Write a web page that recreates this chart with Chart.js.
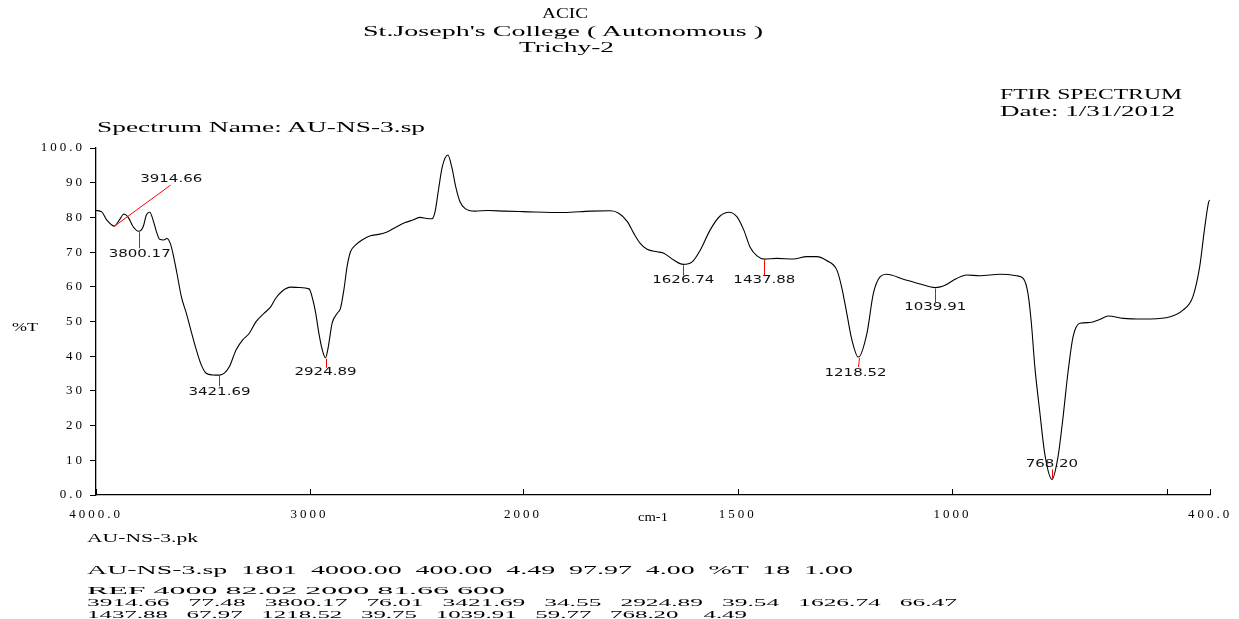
<!DOCTYPE html>
<html><head><meta charset="utf-8">
<script src="https://cdn.jsdelivr.net/npm/chart.js@4.4.1/dist/chart.umd.min.js"></script>
<style>
html,body{margin:0;padding:0;background:#fff;width:1239px;height:619px;overflow:hidden}
#wrap{position:relative;width:1239px;height:619px}
canvas{position:absolute;left:0;top:0}
.t{position:absolute;white-space:pre;font-family:"Liberation Serif","Times New Roman",serif;color:#000;line-height:1;transform-origin:0 50%}
</style></head><body>
<div id="wrap"><canvas id="c" width="1239" height="619"></canvas></div>
<script>
// ---------- DATA ----------
const wavenumbers = [4000,3973,3950,3915,3891,3869,3849,3826,3800,3779,3764,3748,3733,3717,3702,3683,3668,3652,3640,3621,3600,3577,3554,3530,3507,3484,3453,3422,3399,3375,3344,3313,3282,3251,3212,3181,3158,3127,3088,3049,3002,2984,2971,2956,2940,2925,2912,2894,2870,2855,2839,2824,2808,2785,2754,2715,2676,2637,2598,2552,2513,2482,2451,2427,2412,2396,2378,2352,2334,2315,2295,2272,2225,2163,2085,2000,1905,1843,1796,1777,1757,1742,1727,1711,1688,1672,1649,1627,1606,1587,1564,1541,1520,1502,1486,1471,1455,1438,1409,1370,1339,1316,1292,1269,1258,1246,1234,1219,1199,1184,1168,1153,1114,1075,1040,1021,990,967,936,889,851,835,824,816,808,796,785,768,754,743,731,719,703,680,657,637,602,556,502,463,440,424,413,403,400];
const transmittance = [82.0,81.6,79.3,77.5,79.2,81.0,80.0,77.3,76.0,77.3,80.7,81.5,79.3,75.9,73.7,73.5,73.9,72.5,69.7,63.9,57.1,52.4,47.1,41.8,37.5,35.1,34.6,34.55,35.1,37.0,41.8,44.7,46.6,49.9,52.4,54.3,56.7,58.8,59.9,59.8,59.4,56.2,52.4,46.6,41.8,39.54,42.7,49.5,52.4,53.8,59.1,65.8,70.1,72.0,73.5,74.7,75.1,75.8,77.1,78.5,79.3,80.0,79.7,79.6,81.6,87.9,94.6,97.97,94.6,88.8,84.5,82.6,81.8,82.0,81.8,81.66,81.4,81.8,81.9,81.2,78.8,75.4,72.5,70.8,70.1,69.7,67.7,66.47,67.2,70.6,76.4,80.4,81.5,80.2,76.4,71.4,68.9,67.97,68.2,68.0,68.7,68.7,67.5,64.8,60.0,52.4,44.7,39.75,46.6,58.1,62.9,63.6,62.2,60.8,59.77,60.2,62.4,63.4,63.2,63.6,63.2,62.4,58.1,49.5,37.0,23.5,12.0,4.49,11.0,21.6,35.1,45.6,49.5,49.7,50.6,51.6,50.9,50.7,51.1,53.3,57.1,65.8,76.4,84.5,85.0];
const peakWavenumbers = [3914.66,3800.17,3421.69,2924.89,1626.74,1437.88,1218.52,1039.91,768.20];
const peakTransmittance = [77.48,76.01,34.55,39.54,66.47,67.97,39.75,59.77,4.49];
const xTickValues = [400,500,1000,1500,2000,3000,4000];
const xTickLabels = ['400.0','','1000','1500','2000','3000','4000.0'];
const yTickValues = [0,10,20,30,40,50,60,70,80,90,100];
const yTickLabels = ['0.0','10','20','30','40','50','60','70','80','90','100.0'];
const headerLines = ['ACIC',"St.Joseph's College ( Autonomous )",'Trichy-2'];
const infoLines = ['FTIR SPECTRUM','Date: 1/31/2012','Spectrum Name: AU-NS-3.sp'];
const axisTitles = ['%T','cm-1'];
const footerLines = ['AU-NS-3.pk',
 'AU-NS-3.sp  1801  4000.00  400.00  4.49  97.97  4.00  %T  18  1.00',
 'REF 4000 82.02 2000 81.66 600',
 '3914.66   77.48   3800.17   76.01   3421.69   34.55   2924.89   39.54   1626.74   66.47',
 '1437.88   67.97   1218.52   39.75   1039.91   59.77   768.20    4.49'];

// ---------- STYLE / LAYOUT ----------
const BREAK = 2000, XMIN = 400, XMAX = 4000, BREAK_FRAC = 427/1114;
const peakStyle = [
  {lx:56, ly:-41, tx:57, ty:-47, l0:0},
  {lx:0, ly:17, tx:1, ty:23, l0:1},
  {lx:0, ly:11, tx:0, ty:17, l0:1},
  {lx:0, ly:10, tx:0, ty:15, l0:1},
  {lx:0, ly:11, tx:0, ty:16, l0:1},
  {lx:0, ly:16, tx:0, ty:21, l0:1},
  {lx:-1, ly:10, tx:-3, ty:16, l0:1},
  {lx:0, ly:15, tx:0, ty:20, l0:1},
  {lx:0, ly:-10, tx:0, ty:-15, l0:-1}
];

class SplitScale extends Chart.LinearScale {
  static id = 'split';
  static defaults = Chart.LinearScale.defaults;
  _frac(v){ return v >= BREAK ? (XMAX - v)/(XMAX - BREAK)*BREAK_FRAC : BREAK_FRAC + (BREAK - v)/(BREAK - XMIN)*(1 - BREAK_FRAC); }
  getPixelForValue(v){ return this.getPixelForDecimal(this._frac(v)); }
  getValueForPixel(p){
    const f = this.getDecimalForPixel(p);
    return f <= BREAK_FRAC ? XMAX - f/BREAK_FRAC*(XMAX - BREAK) : BREAK - (f - BREAK_FRAC)/(1 - BREAK_FRAC)*(BREAK - XMIN);
  }
}
Chart.register(SplitScale);

const textSpacing = {
  id:'textSpacing',
  beforeDraw(chart){ chart.ctx.letterSpacing = '3px'; },
  beforeDatasetsDraw(chart){ chart.ctx.letterSpacing = '0px'; }
};

const annotations = {
  id:'annotations',
  afterDatasetsDraw(chart){
    const ctx = chart.ctx, xs = chart.scales.x, ys = chart.scales.y;
    ctx.save();
    ctx.letterSpacing = '0px';
    ctx.strokeStyle = '#000'; ctx.lineWidth = 1;
    xs.ticks.forEach(t => {
      const px = Math.round(xs.getPixelForValue(t.value)) + 0.5;
      ctx.beginPath(); ctx.moveTo(px, ys.bottom); ctx.lineTo(px, ys.bottom - 6); ctx.stroke();
    });
    peakWavenumbers.forEach((w, i) => {
      const s = peakStyle[i];
      const px = xs.getPixelForValue(w), py = ys.getPixelForValue(peakTransmittance[i]);
      ctx.strokeStyle = '#ff0000'; ctx.lineWidth = 1;
      ctx.beginPath();
      ctx.moveTo(Math.round(px)+0.5, py + s.l0);
      ctx.lineTo(Math.round(px + s.lx)+0.5, py + s.ly);
      ctx.stroke();
      ctx.save();
      ctx.translate(px + s.tx, py + s.ty);
      ctx.scale(1.5, 1);
      ctx.font = '10px "DejaVu Sans"';
      ctx.fillStyle = '#111';
      ctx.textAlign = 'center'; ctx.textBaseline = 'middle';
      ctx.fillText(w.toFixed(2), 0, 0);
      ctx.restore();
    });
    ctx.restore();
  }
};

new Chart(document.getElementById('c'), {
  type: 'line',
  data: { datasets: [{
    data: wavenumbers.map((w, i) => ({x: w, y: transmittance[i]})),
    borderColor: '#000', borderWidth: 1.1, pointRadius: 0, fill: false,
    cubicInterpolationMode: 'monotone'
  }]},
  options: {
    responsive: false, animation: false, devicePixelRatio: 1,
    layout: { padding: { top: 148, right: 29, left: 0, bottom: 0 } },
    plugins: { legend: {display:false}, tooltip: {enabled:false}, title: {display:false} },
    scales: {
      x: {
        type: 'split', min: XMIN, max: XMAX,
        afterFit: s => { s.height = 124; },
        afterBuildTicks: s => { s.ticks = xTickValues.map(v => ({value: v})); },
        grid: { display: false },
        border: { display: true, color: '#000', width: 1.3 },
        ticks: { autoSkip: false, maxRotation: 0, minRotation: 0, padding: 4, color: '#000',
          font: { family: '"Liberation Serif", serif', size: 13 },
          callback: v => xTickLabels[xTickValues.indexOf(v)] }
      },
      y: {
        type: 'linear', min: 0, max: 100,
        afterFit: s => { s.width = 96; },
        afterBuildTicks: s => { s.ticks = yTickValues.map(v => ({value: v})); },
        grid: { drawOnChartArea: false, drawTicks: true, tickLength: 6, color: '#000' },
        border: { display: true, color: '#000', width: 1.3 },
        ticks: { padding: 5, color: '#000', font: { family: '"Liberation Serif", serif', size: 13 },
          callback: v => yTickLabels[yTickValues.indexOf(v)] }
      }
    }
  },
  plugins: [textSpacing, annotations]
});

// ---------- HTML TEXT ----------
const textItems = [
  {text: headerLines[0], cx: 565, cy: 14, w: 46, size: 14},
  {text: headerLines[1], cx: 563, cy: 32, w: 400, size: 14},
  {text: headerLines[2], cx: 566, cy: 48, w: 95, size: 14},
  {text: infoLines[0], x: 1000, cy: 95, w: 182, size: 14},
  {text: infoLines[1], x: 1000, cy: 112, w: 175, size: 14},
  {text: infoLines[2], x: 97, cy: 128, w: 328, size: 14},
  {text: axisTitles[0], x: 12, cy: 327, w: 26, size: 12},
  {text: axisTitles[1], cx: 653, cy: 517, w: 30, size: 12},
  {text: footerLines[0], x: 87, cy: 537, w: 111, size: 13},
  {text: footerLines[1], x: 87, cy: 569, w: 766, size: 13},
  {text: footerLines[2], x: 87, cy: 590, w: 418, size: 11},
  {text: footerLines[3], x: 87, cy: 602, w: 870, size: 11},
  {text: footerLines[4], x: 87, cy: 614, w: 660, size: 11}
];
const wrap = document.getElementById('wrap');
textItems.forEach(it => {
  const d = document.createElement('div');
  d.className = 't';
  d.style.fontSize = it.size + 'px';
  d.textContent = it.text;
  wrap.appendChild(d);
  const nat = d.getBoundingClientRect().width;
  const k = it.w / nat;
  const left = it.x !== undefined ? it.x : it.cx - it.w/2;
  d.style.left = left + 'px';
  d.style.top = (it.cy - it.size/2) + 'px';
  d.style.transform = 'scaleX(' + k.toFixed(4) + ')';
});
</script>
</body></html>
